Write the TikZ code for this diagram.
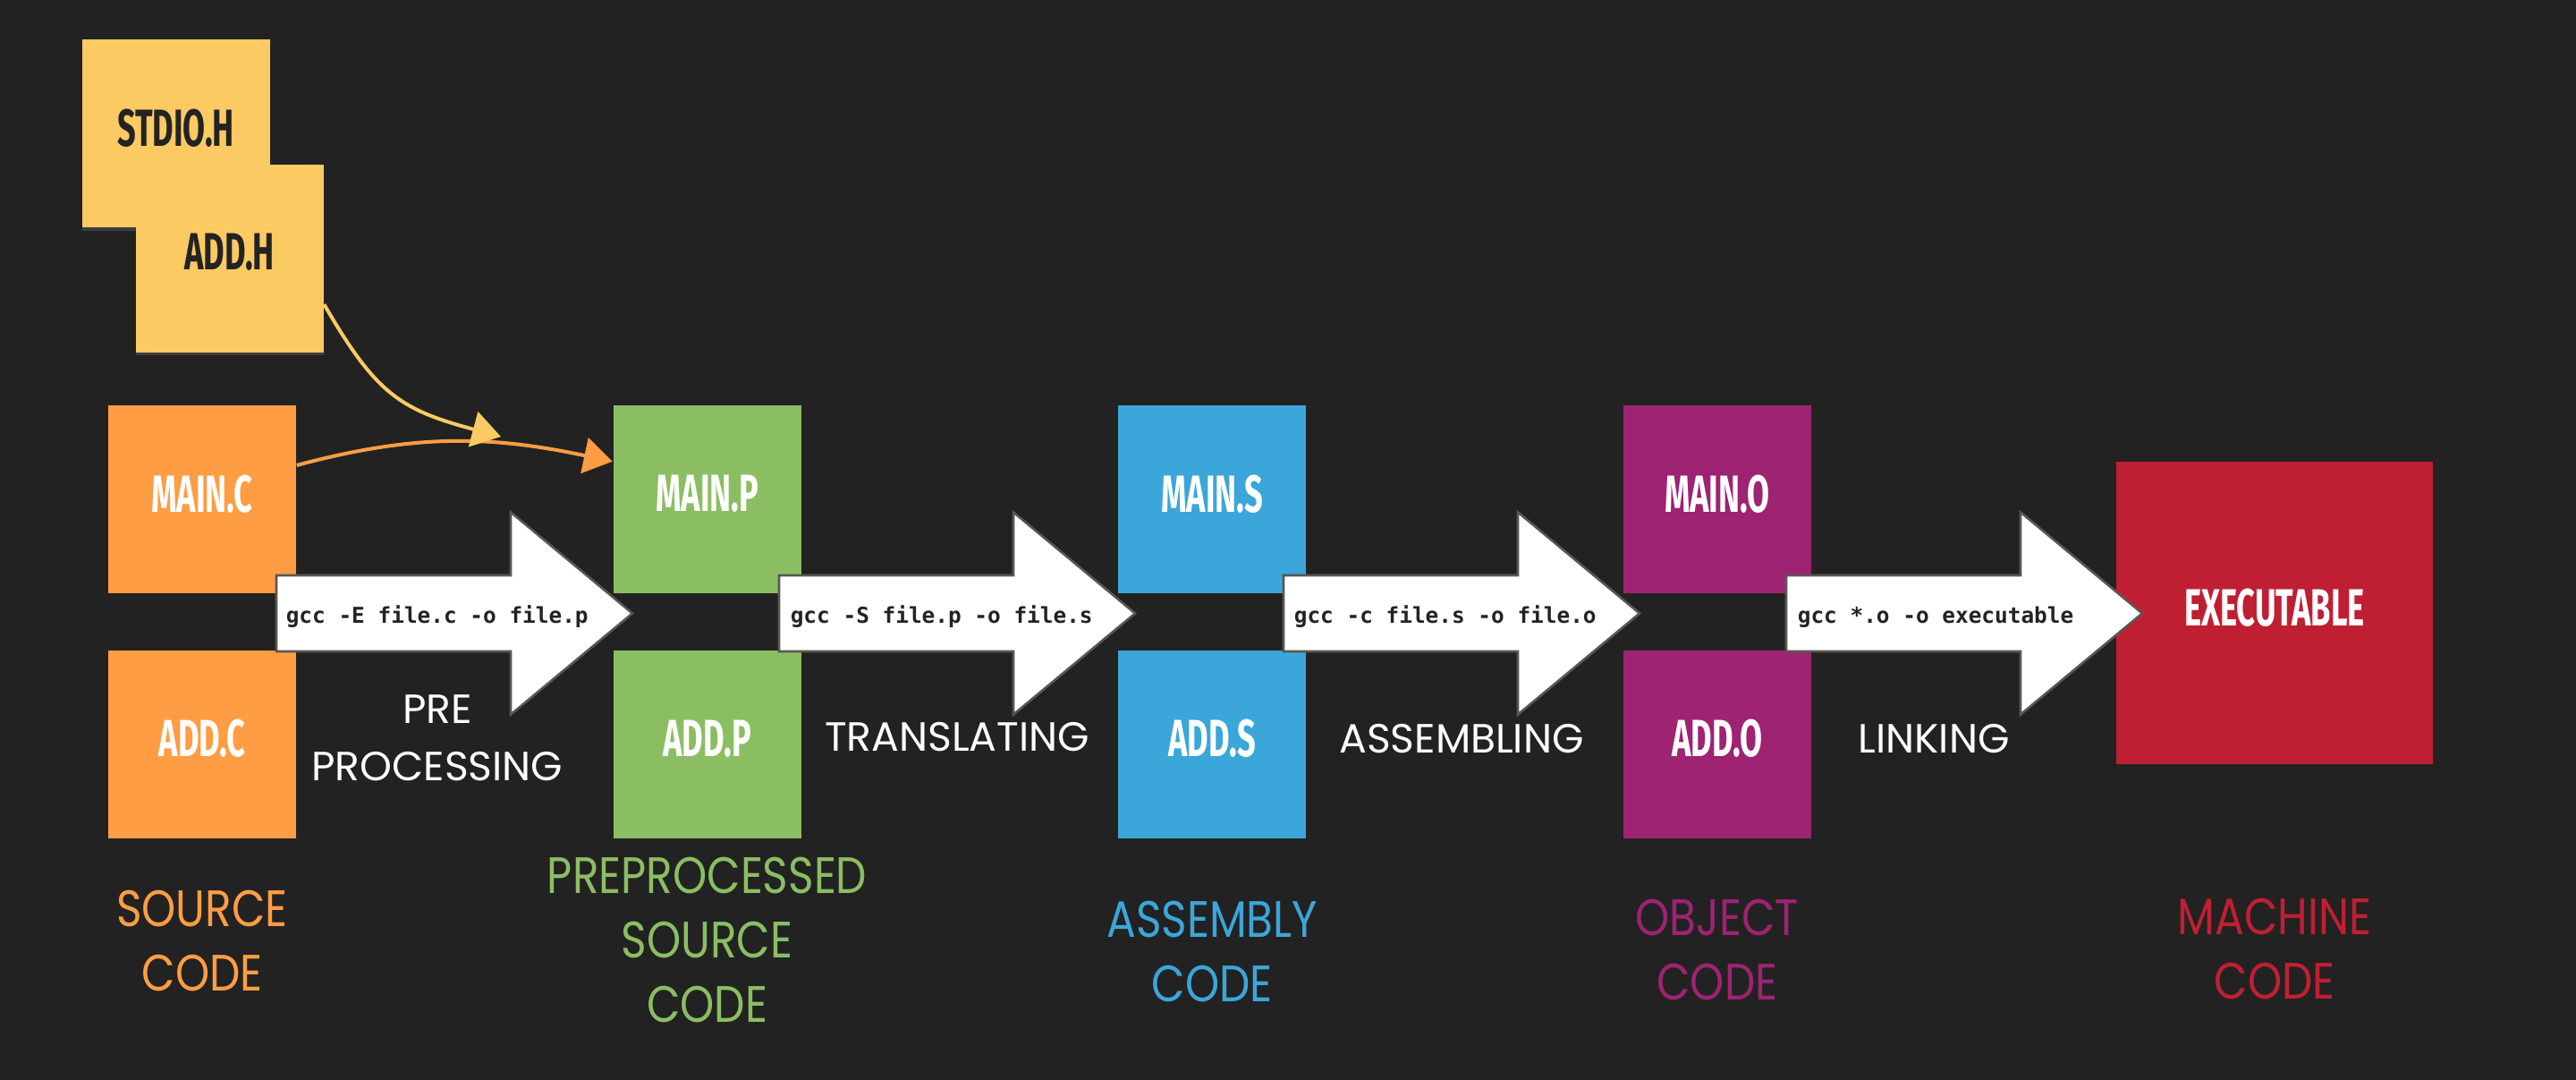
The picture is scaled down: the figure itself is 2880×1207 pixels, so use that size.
\documentclass[tikz,border=0pt]{standalone}
\usepackage{fontspec}
\setmainfont{Fira Sans}
\newfontfamily\boxfont[FakeStretch=0.62]{Fira Sans}
\newfontfamily\cmdfont{DejaVu Sans Mono}
\newfontfamily\chalkfont{Poppins}
\newfontfamily\brushfont[FakeStretch=0.85]{Poppins}
\usepackage{tikz}
\usetikzlibrary{positioning, arrows.meta, shadows}
\definecolor{bgdark}{HTML}{222222}
\definecolor{hdryellow}{HTML}{FBCA63}
\definecolor{srcorange}{HTML}{FE9D43}
\definecolor{ppgreen}{HTML}{8BBE62}
\definecolor{asmblue}{HTML}{3BA6D9}
\definecolor{objpurple}{HTML}{9E2372}
\definecolor{exered}{HTML}{C01F33}
\definecolor{arrowgray}{HTML}{5A5751}
\definecolor{textdark}{HTML}{232323}

\tikzset{
  cmdarrow/.pic={
    \draw[draw=arrowgray, fill=white, line width=0.65pt, line join=miter]
      (0,42.5) -- (262,42.5) -- (262,113) -- (398,0) -- (262,-113)
      -- (262,-42.5) -- (0,-42.5) -- cycle;
  }
}

\begin{document}
\begin{tikzpicture}[
    x=0.25pt, y=0.25pt,
    filebox/.style={rectangle, minimum width=52.5pt, minimum height=52.5pt,
                    inner sep=0pt, text depth=3.5pt, text=white,
                    font=\boxfont\bfseries\fontsize{14.6pt}{18pt}\selectfont},
    hdrbox/.style={filebox, fill=hdryellow, text=textdark,
                   drop shadow={opacity=0.3, shadow xshift=0pt, shadow yshift=-0.8pt}},
    cmd/.style={anchor=west, inner sep=0pt, text=textdark,
                font=\cmdfont\bfseries\fontsize{6.1pt}{7pt}\selectfont},
    stage/.style={align=center, inner sep=0pt, text=white,
                  font=\chalkfont\fontsize{11.4pt}{16pt}\selectfont},
    kind/.style={align=center, inner sep=0pt,
                 font=\brushfont\fontsize{14.3pt}{18pt}\selectfont},
    incl/.style={line width=1pt, -{Triangle[length=8pt, width=10pt]}}
]

\useasboundingbox[fill=bgdark] (0,0) rectangle (2880,-1207);

% Headers
\node[hdrbox] (stdioh) at (196.5,-149.5) {STDIO.H};
\node[hdrbox, below right=-18.125pt and -37.875pt of stdioh] (addh) {ADD.H};

% Files
\node[filebox, fill=srcorange] (mainc) at (226,-558.5) {MAIN.C};
\node[filebox, fill=srcorange, below=15.5pt of mainc] (addc) {ADD.C};

\node[filebox, fill=ppgreen, right=88.25pt of mainc] (mainp) {MAIN.P};
\node[filebox, fill=ppgreen, below=15.5pt of mainp] (addp) {ADD.P};

\node[filebox, fill=asmblue, right=88.25pt of mainp] (mains) {MAIN.S};
\node[filebox, fill=asmblue, below=15.5pt of mains] (adds) {ADD.S};

\node[filebox, fill=objpurple, right=88.25pt of mains] (maino) {MAIN.O};
\node[filebox, fill=objpurple, below=15.5pt of maino] (addo) {ADD.O};

\node[filebox, fill=exered, minimum width=88.5pt, minimum height=84.5pt] (exe) at (2543,-685.5) {EXECUTABLE};

% Includes
\coordinate (join) at (560,-488);
\draw[incl, srcorange] (mainc.20) to[out=15, in=168] (mainp.158);
\draw[incl, hdryellow] (addh.-26) to[out=-60, in=165, looseness=1.2] (join);

% Steps
\coordinate (tailE) at (309,-685.5);
\coordinate (tailS) at (871,-685.5);
\coordinate (tailC) at (1435,-685.5);
\coordinate (tailL) at (1997,-685.5);

\pic at (tailE) {cmdarrow};
\pic at (tailS) {cmdarrow};
\pic at (tailC) {cmdarrow};
\pic at (tailL) {cmdarrow};

\node[cmd] (cmdE) at ([xshift=2.5pt, yshift=-1pt]tailE) {gcc -E file.c -o file.p};
\node[cmd] (cmdS) at ([xshift=3pt, yshift=-1pt]tailS) {gcc -S file.p -o file.s};
\node[cmd] (cmdC) at ([xshift=2.75pt, yshift=-1pt]tailC) {gcc -c file.s -o file.o};
\node[cmd] (cmdL) at ([xshift=3pt, yshift=-1pt]tailL) {gcc *.o -o executable};

\node[stage] (prelbl) at (489,-825) {PRE\\PROCESSING};
\node[stage] (translbl) at (1070,-824) {TRANSLATING};
\node[stage] (asmlbl) at (1634,-826) {ASSEMBLING};
\node[stage] (linklbl) at (2162,-826) {LINKING};

% Kinds
\node[kind, text=srcorange, below=14pt of addc] (srckind) {SOURCE\\CODE};
\node[kind, text=ppgreen, below=4.75pt of addp] (ppkind) {PREPROCESSED\\SOURCE\\CODE};
\node[kind, text=asmblue, below=17pt of adds] (asmkind) {ASSEMBLY\\CODE};
\node[kind, text=objpurple, below=16.5pt of addo] (objkind) {OBJECT\\CODE};
\node[kind, text=exered, below=37pt of exe] (machkind) {MACHINE\\CODE};

\end{tikzpicture}
\end{document}
